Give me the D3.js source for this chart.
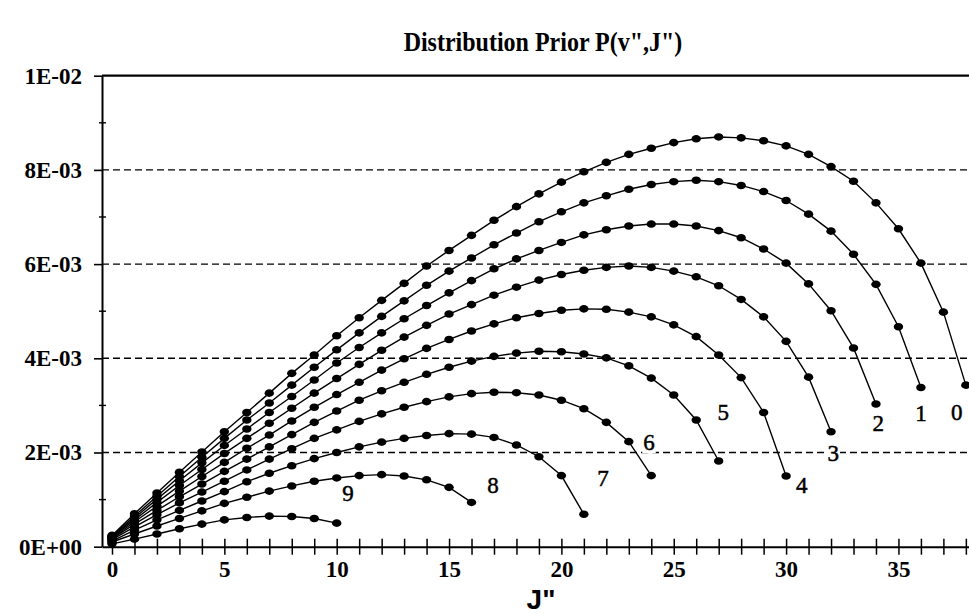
<!DOCTYPE html>
<html><head><meta charset="utf-8">
<script src="https://cdn.jsdelivr.net/npm/d3@7"></script>
<style>body{margin:0;background:#fff}svg{display:block}</style>
</head><body>
<svg id="c" width="969" height="614"></svg>
<script>
// ---- data (values in units of 1E-03) ----
const chartTitle = 'Distribution Prior P(v",J")';
const xAxisTitle = 'J"';
const UNIT = 1e-3;
const vLabels = ["0","1","2","3","4","5","6","7","8","9"];
const P_v0 = [0.24,0.70,1.14,1.58,2.01,2.44,2.85,3.26,3.68,4.07,4.48,4.86,5.23,5.59,5.96,6.29,6.61,6.93,7.22,7.49,7.74,7.96,8.16,8.33,8.46,8.58,8.66,8.70,8.68,8.62,8.51,8.33,8.07,7.76,7.30,6.75,6.02,4.98,3.43];
const P_v1 = [0.22,0.65,1.07,1.49,1.90,2.30,2.69,3.05,3.43,3.81,4.18,4.54,4.89,5.22,5.55,5.85,6.13,6.41,6.66,6.90,7.11,7.30,7.45,7.59,7.69,7.75,7.78,7.75,7.67,7.54,7.35,7.06,6.70,6.21,5.57,4.67,3.38];
const P_v2 = [0.21,0.61,1.01,1.40,1.78,2.15,2.50,2.85,3.19,3.54,3.90,4.23,4.54,4.84,5.12,5.39,5.65,5.90,6.11,6.29,6.46,6.62,6.73,6.81,6.85,6.85,6.81,6.71,6.56,6.32,6.02,5.58,5.01,4.22,3.03];
const P_v3 = [0.20,0.57,0.94,1.30,1.64,1.98,2.30,2.62,2.94,3.26,3.57,3.87,4.17,4.45,4.70,4.94,5.14,5.34,5.51,5.66,5.78,5.87,5.93,5.96,5.93,5.85,5.73,5.54,5.25,4.88,4.36,3.60,2.44];
const P_v4 = [0.18,0.53,0.86,1.18,1.49,1.79,2.09,2.37,2.67,2.96,3.23,3.49,3.75,3.99,4.21,4.40,4.58,4.73,4.86,4.95,5.02,5.05,5.04,4.98,4.88,4.71,4.46,4.07,3.59,2.85,1.50];
const P_v5 = [0.17,0.48,0.77,1.06,1.33,1.60,1.86,2.12,2.38,2.64,2.88,3.11,3.31,3.49,3.66,3.81,3.94,4.04,4.11,4.15,4.14,4.09,4.01,3.84,3.58,3.22,2.69,1.82];
const P_v6 = [0.15,0.42,0.68,0.93,1.16,1.39,1.63,1.86,2.08,2.30,2.48,2.66,2.82,2.96,3.08,3.18,3.25,3.28,3.27,3.22,3.11,2.93,2.64,2.23,1.51];
const P_v7 = [0.12,0.35,0.57,0.77,0.97,1.17,1.38,1.56,1.72,1.87,2.00,2.12,2.22,2.30,2.36,2.40,2.39,2.32,2.16,1.91,1.51,0.69];
const P_v8 = [0.10,0.27,0.44,0.60,0.76,0.92,1.05,1.18,1.29,1.39,1.46,1.51,1.53,1.50,1.42,1.26,0.94];
const P_v9 = [0.06,0.16,0.27,0.38,0.48,0.57,0.62,0.65,0.64,0.60,0.50];
// curve label anchors in data units (J, value in 1E-03)
const labelJ = [37.6,36.0,34.1,32.1,30.7,27.2,23.9,21.85,16.96,10.5];
const labelP = [2.86,2.84,2.63,1.99,1.31,2.86,2.22,1.46,1.31,1.14];
const yTickValues = [0,2,4,6,8,10];
const yTickLabels = ["0E+00","2E-03","4E-03","6E-03","8E-03","1E-02"];
const yMinorTicks = [1,3,5,7,9];
const gridValues = [2,4,6,8];
const xTickValues = d3.range(0,39);
const xTickLabels = [0,5,10,15,20,25,30,35];

const series = [P_v0,P_v1,P_v2,P_v3,P_v4,P_v5,P_v6,P_v7,P_v8,P_v9];

// ---- drawing ----
const svg = d3.select("#c");
const x = d3.scaleLinear().domain([-0.445, 38.14]).range([102, 969]);
const y = d3.scaleLinear().domain([0, 10*UNIT]).range([546.7, 75.7]);
const serif = "'Liberation Serif','Times New Roman',serif";

svg.append("text").attr("x",543).attr("y",51).attr("text-anchor","middle")
  .attr("font-family",serif).attr("font-weight","bold").attr("font-size",25)
  .attr("transform","translate(543,51) scale(0.96,1.08) translate(-543,-51)")
  .text(chartTitle);

// grid
svg.append("g").selectAll("line").data(gridValues).join("line")
  .attr("x1",x.range()[0]).attr("x2",x.range()[1])
  .attr("y1",d=>y(d*UNIT)).attr("y2",d=>y(d*UNIT))
  .attr("stroke","#000").attr("stroke-width",1.4).attr("stroke-dasharray","7,4");
// top frame line
svg.append("line").attr("x1",x.range()[0]).attr("x2",x.range()[1])
  .attr("y1",y(10*UNIT)).attr("y2",y(10*UNIT)).attr("stroke","#000").attr("stroke-width",2.2);

// y axis
const yAxis = d3.axisLeft(y).tickValues(yTickValues.map(d=>d*UNIT))
  .tickFormat((d,i)=>yTickLabels[i]).tickSizeInner(8).tickSizeOuter(0).tickPadding(12);
const gy = svg.append("g").attr("transform",`translate(${x.range()[0]},0)`).call(yAxis);
gy.select(".domain").attr("stroke-width",2);
gy.selectAll(".tick line").attr("stroke-width",1.6);
gy.selectAll("text").attr("font-family",serif).attr("font-weight","bold").attr("font-size",23).attr("fill","#000");
svg.append("g").selectAll("line").data(yMinorTicks).join("line")
  .attr("x1",x.range()[0]-3).attr("x2",x.range()[0]+4)
  .attr("y1",d=>y(d*UNIT)).attr("y2",d=>y(d*UNIT)).attr("stroke","#000").attr("stroke-width",1.4);

// x axis
const xAxis = d3.axisBottom(x).tickValues(xTickValues)
  .tickFormat(d=>xTickLabels.includes(d)?d:"").tickSizeInner(8).tickSizeOuter(0).tickPadding(6);
const gx = svg.append("g").attr("transform",`translate(0,${y(0)})`).call(xAxis);
gx.select(".domain").attr("stroke-width",2);
gx.selectAll(".tick line").attr("y1",-8).attr("stroke-width",1.5);
gx.selectAll("text").attr("font-family",serif).attr("font-weight","bold").attr("font-size",23).attr("fill","#000");

svg.append("text").attr("x",541).attr("y",609).attr("text-anchor","middle")
  .attr("font-family","'Liberation Sans',Arial,sans-serif").attr("font-weight","bold").attr("font-size",28)
  .text(xAxisTitle);

// curves
const line = d3.line().x((d,i)=>x(i)).y(d=>y(d*UNIT));
const gc = svg.append("g");
series.forEach(s=>{
  gc.append("path").attr("d",line(s)).attr("fill","none").attr("stroke","#000").attr("stroke-width",1.4);
  gc.append("g").selectAll("ellipse").data(s).join("ellipse")
    .attr("cx",(d,i)=>x(i)).attr("cy",d=>y(d*UNIT)).attr("rx",4.7).attr("ry",3.8).attr("fill","#000");
});

// curve labels
const gl = svg.append("g");
vLabels.forEach((t,i)=>{
  const g = gl.append("g");
  const tx = g.append("text").attr("x",x(labelJ[i])).attr("y",y(labelP[i]*UNIT)).attr("dy","0.35em")
    .attr("text-anchor","middle").attr("font-family",serif).attr("font-size",23)
    .attr("stroke","#000").attr("stroke-width",0.5).text(t);
  const b = tx.node().getBBox();
  g.insert("rect","text").attr("x",b.x-1).attr("y",b.y+3).attr("width",b.width+2).attr("height",b.height-5).attr("fill","#fff");
});
</script>
</body></html>
